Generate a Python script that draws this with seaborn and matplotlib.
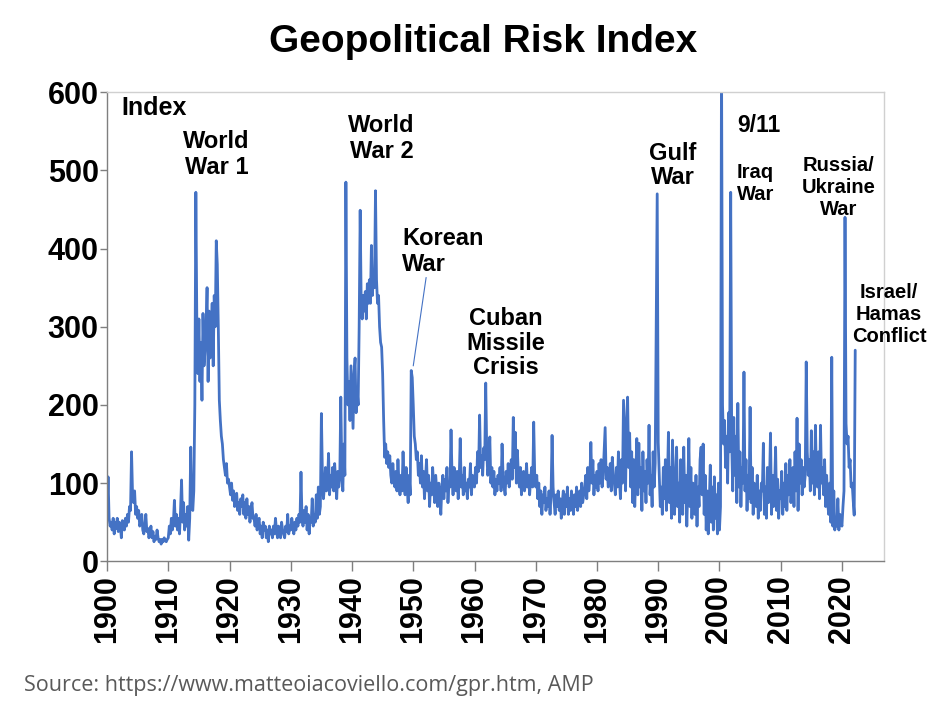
import numpy as np
import pandas as pd
import seaborn as sns
import matplotlib
matplotlib.use("Agg")
import matplotlib.pyplot as plt

# Geopolitical risk index, six readings per year
gpr_1900s = [60, 108, 55, 45, 50, 40, 55, 35, 50, 42, 55, 38,
             50, 45, 30, 52, 48, 40, 55, 45, 60, 50, 70, 65,
             140, 85, 75, 90, 60, 70, 55, 65, 45, 50, 60, 40,
             35, 45, 60, 38, 42, 30, 35, 45, 30, 38, 25, 32,
             28, 40, 30, 25, 28, 22, 28, 25, 30, 27, 25, 28]
gpr_1910s = [30, 45, 35, 55, 40, 50, 78, 45, 60, 40, 55, 35,
             65, 104, 50, 75, 40, 60, 45, 70, 27, 55, 146, 70,
             65, 90, 200, 472, 300, 240, 310, 230, 280, 206, 317, 250,
             270, 300, 350, 230, 320, 260, 290, 330, 250, 340, 300, 410,
             380, 300, 206, 180, 160, 150, 130, 120, 110, 125, 100, 105]
gpr_1920s = [95, 85, 100, 78, 90, 70, 80, 87, 65, 75, 60, 80,
             70, 85, 60, 75, 55, 80, 60, 70, 50, 65, 75, 55,
             55, 45, 60, 40, 50, 55, 35, 45, 30, 50, 40, 45,
             30, 40, 25, 45, 35, 40, 30, 45, 35, 55, 40, 30,
             45, 35, 30, 50, 40, 35, 30, 45, 38, 60, 35, 45]
gpr_1930s = [40, 55, 45, 35, 50, 40, 55, 45, 60, 50, 114, 55,
             45, 65, 50, 70, 40, 60, 35, 55, 50, 80, 45, 60,
             50, 85, 55, 95, 60, 70, 189, 110, 80, 95, 120, 90,
             100, 138, 85, 110, 95, 120, 90, 125, 100, 80, 115, 95,
             105, 210, 120, 90, 150, 110, 485, 260, 200, 230, 180, 250]
gpr_1940s = [210, 170, 240, 260, 190, 220, 200, 300, 449, 330, 310, 340,
             320, 345, 310, 355, 330, 360, 330, 404, 340, 370, 350, 474,
             360, 330, 340, 300, 280, 274, 240, 180, 133, 150, 125, 140,
             120, 135, 110, 100, 125, 105, 95, 115, 90, 130, 100, 85,
             110, 90, 140, 100, 85, 120, 95, 75, 110, 85, 244, 235]
gpr_1950s = [200, 160, 150, 130, 140, 110, 125, 100, 135, 95, 115, 80,
             105, 130, 90, 110, 70, 100, 85, 120, 95, 75, 110, 90,
             70, 100, 85, 60, 95, 110, 80, 105, 90, 120, 75, 100,
             95, 168, 110, 85, 120, 100, 90, 115, 80, 105, 157, 95,
             110, 85, 120, 90, 100, 80, 105, 95, 125, 85, 110, 100]
gpr_1960s = [95, 120, 100, 140, 115, 187, 120, 135, 110, 145, 130, 228,
             140, 110, 125, 159, 100, 120, 95, 115, 85, 105, 90, 110,
             100, 120, 90, 150, 110, 95, 85, 115, 100, 125, 95, 110,
             130, 105, 184, 120, 165, 100, 142, 110, 95, 120, 85, 105,
             115, 90, 100, 125, 95, 110, 85, 105, 120, 95, 178, 110]
gpr_1970s = [95, 110, 80, 100, 70, 90, 60, 85, 75, 95, 65, 80,
             70, 90, 60, 85, 161, 95, 75, 60, 85, 70, 90, 65,
             80, 55, 75, 90, 60, 85, 70, 95, 60, 80, 65, 90,
             75, 60, 85, 70, 95, 65, 80, 90, 70, 100, 75, 85,
             95, 110, 80, 120, 90, 105, 152, 100, 129, 85, 110, 95]
gpr_1980s = [115, 90, 125, 100, 130, 95, 110, 140, 171, 105, 120, 95,
             100, 125, 90, 133, 110, 100, 85, 120, 95, 140, 105, 80,
             130, 100, 206, 150, 90, 180, 210, 120, 164, 95, 140, 75,
             130, 70, 110, 157, 85, 151, 95, 120, 65, 140, 90, 115,
             75, 130, 100, 174, 85, 110, 70, 140, 95, 125, 289, 470]
gpr_1990s = [152, 110, 70, 95, 60, 120, 80, 130, 65, 100, 165, 75,
             120, 55, 155, 90, 60, 110, 146, 70, 100, 50, 130, 85,
             60, 146, 75, 110, 45, 95, 157, 70, 120, 55, 100, 80,
             60, 110, 45, 95, 70, 130, 146, 85, 150, 60, 110, 40,
             90, 35, 75, 123, 50, 95, 40, 108, 55, 85, 35, 100]
gpr_2000s = [40, 70, 650, 200, 150, 180, 120, 160, 100, 190, 140, 472,
             150, 90, 184, 110, 160, 75, 202, 95, 140, 70, 120, 100,
             242, 90, 130, 65, 110, 80, 197, 75, 120, 60, 100, 85,
             70, 110, 55, 90, 65, 100, 90, 151, 60, 95, 55, 120,
             75, 100, 164, 60, 110, 70, 95, 146, 65, 105, 55, 90]
gpr_2010s = [80, 115, 60, 100, 70, 125, 65, 110, 85, 130, 75, 95,
             120, 70, 140, 90, 183, 65, 150, 100, 130, 85, 120, 95,
             110, 255, 140, 110, 130, 90, 167, 100, 140, 85, 174, 110,
             95, 140, 80, 174, 100, 120, 85, 130, 70, 110, 75, 60,
             100, 50, 261, 45, 90, 40, 55, 45, 80, 40, 60, 50]
gpr_2020s = [45, 70, 90, 440, 176, 150, 160, 120, 130, 95, 100, 78,
             59, 270]

year_ticks = list(range(1900, 2030, 10))
value_ticks = [0, 100, 200, 300, 400, 500, 600]

events = [
    ("World\nWar 1", 1917.9, 520, "center", 17, 1.15),
    ("World\nWar 2", 1944.8, 541, "center", 17, 1.15),
    ("Korean\nWar", 1948.2, 396, "left", 17, 1.15),
    ("Cuban\nMissile\nCrisis", 1965.1, 279, "center", 17, 1.1),
    ("Gulf\nWar", 1992.4, 506, "center", 17, 1.05),
    ("Iraq\nWar", 2005.9, 483, "center", 14.5, 1.2),
    ("Russia/\nUkraine\nWar", 2019.5, 478, "center", 14.5, 1.2),
    ("Israel/\nHamas\nConflict", 2027.7, 316, "center", 14.5, 1.2),
]

gpr = np.concatenate([gpr_1900s, gpr_1910s, gpr_1920s, gpr_1930s, gpr_1940s,
                      gpr_1950s, gpr_1960s, gpr_1970s, gpr_1980s, gpr_1990s,
                      gpr_2000s, gpr_2010s, gpr_2020s])
df = pd.DataFrame({"year": 1900 + np.arange(len(gpr)) / 6.0, "gpr": gpr})

sns.set_style("white")
plt.rcParams['font.family'] = ['Liberation Sans', 'DejaVu Sans']
plt.rcParams['text.color'] = 'black'
plt.rcParams['xtick.labelcolor'] = 'black'
plt.rcParams['ytick.labelcolor'] = 'black'

fig = plt.figure(figsize=(9.39, 7.15), dpi=100)
ax = fig.add_axes([0.114, 0.215, 0.827, 0.656])

blue = "#4472C4"
sns.lineplot(data=df, x="year", y="gpr", color=blue, linewidth=2.0, ax=ax)

ax.set_xlim(1900, 2026.8)
ax.set_ylim(0, 600)
ax.set_xticks(year_ticks)
ax.set_yticks(value_ticks)
ax.set_xticklabels([str(y) for y in year_ticks], rotation=90,
                   fontsize=22, fontweight="bold")
ax.set_yticklabels([str(v) for v in value_ticks], fontsize=22, fontweight="bold")
ax.tick_params(axis="x", direction="out", length=7, width=1, color="#7f7f7f",
               pad=3, bottom=True)
ax.tick_params(axis="y", direction="out", length=5, width=1, color="#7f7f7f",
               pad=1, left=True)
ax.set_xlabel("")
ax.set_ylabel("")
for side in ["left", "bottom"]:
    ax.spines[side].set_color("#7f7f7f")
    ax.spines[side].set_linewidth(1.0)
for side in ["top", "right"]:
    ax.spines[side].set_color("#d0d0d0")
    ax.spines[side].set_linewidth(1.0)

ax.text(1902.3, 580, "Index", fontsize=18, fontweight="bold", va="center", ha="left")
ax.text(2002.9, 558, "9/11", fontsize=16.5, fontweight="bold", va="center", ha="left")
for label, x, y, align, size, spacing in events:
    ax.text(x, y, label, fontsize=size, fontweight="bold", ha=align,
            va="center", linespacing=spacing, multialignment=align)

# leader line to the Korean War peak
ax.plot([1950.0, 1952.1], [250, 363], color=blue, linewidth=0.8)

fig.text(0.514, 0.941, "Geopolitical Risk Index", fontsize=28,
         fontweight="bold", ha="center", va="center")
fig.text(0.026, 0.041, "Source: https://www.matteoiacoviello.com/gpr.htm, AMP",
         fontsize=15.5, color="#595959", ha="left", va="center",
         family=["Open Sans", "DejaVu Sans"])

fig.savefig("out.png", dpi=100)
